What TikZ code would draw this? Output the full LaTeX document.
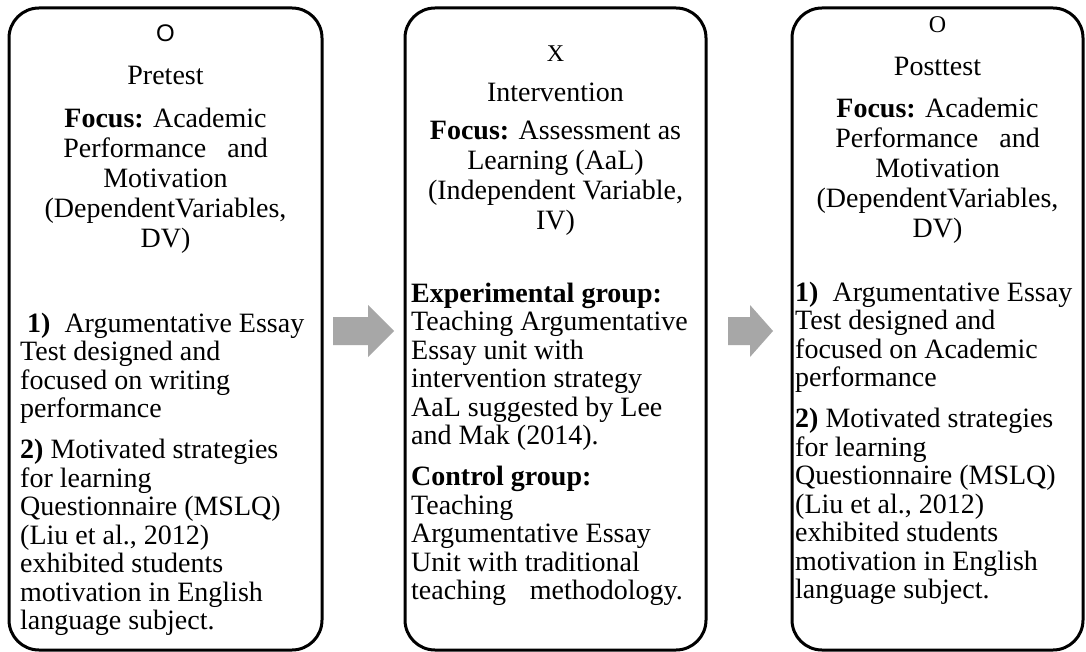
\documentclass[tikz,border=0pt]{standalone}
\usepackage{fontspec}
\setmainfont{Liberation Serif}
\newfontfamily\arialfont{Liberation Sans}
\definecolor{arrowgray}{RGB}{167,167,167}
\newcommand\Lcol[1]{\vtop{\baselineskip=28.5pt\lineskip=0pt\lineskiplimit=-20pt\halign{##\hfil\cr#1\crcr}}}
\newcommand\Ccol[2]{\vtop{\baselineskip=#1\lineskip=0pt\lineskiplimit=-20pt\halign{\hfil##\hfil\cr#2\crcr}}}
\newcommand\pgap{\noalign{\vskip 12.5pt}}
\tikzset{
  panel/.style={draw=black, line width=3pt, rounded corners=30pt},
  txt/.style={inner sep=0pt, anchor=base, font=\fontsize{28}{28.5}\selectfont},
  body/.style={inner sep=0pt, anchor=base west, font=\fontsize{28}{28.5}\selectfont},
  blockarrow/.style={fill=arrowgray, draw=none}
}
\begin{document}
\begin{tikzpicture}[x=1pt,y=-1pt]
\useasboundingbox (0,0) rectangle (1086,652);
\fill[white] (0,0) rectangle (1086,652);
% panels
\draw[panel] (9,8) rectangle (322,650);
\draw[panel] (405,8) rectangle (706,650);
\draw[panel] (792,8) rectangle (1083,650);
% arrows
\fill[blockarrow] (333,317) -- (368,317) -- (368,305) -- (394,331) -- (368,357) -- (368,345) -- (333,345) -- cycle;
\fill[blockarrow] (728,317) -- (750,317) -- (750,305) -- (773,331) -- (750,357) -- (750,345) -- (728,345) -- cycle;
% box 1
\node[txt, font=\arialfont\fontsize{24}{26}\selectfont] (o1) at (165.5,42) {O};
\node[txt] (pre) at (165.5,85) {Pretest};
\node[txt] (f1) at (165.5,128) {\Ccol{30pt}{\textbf{Focus:} Academic\cr Performance\hspace{0.75em}and\cr Motivation\cr (DependentVariables,\cr DV)}};
\node[body] (b1) at (20,332) {\Lcol{\ \textbf{1)}\ \ Argumentative Essay\cr Test designed and\cr focused on writing\cr performance\cr\pgap \textbf{2)} Motivated strategies\cr for learning\cr Questionnaire (MSLQ)\cr (Liu et al., 2012)\cr exhibited students\cr motivation in English\cr language subject.}};
% box 2
\node[txt, font=\fontsize{24}{26}\selectfont] (x2) at (555.5,62) {X};
\node[txt] (int) at (555.5,102) {Intervention};
\node[txt] (f2) at (555.5,140) {\Ccol{30pt}{\textbf{Focus:} Assessment as\cr Learning (AaL)\cr (Independent Variable,\cr IV)}};
\node[body] (b2) at (411,302) {\Lcol{\textbf{Experimental group:}\cr Teaching Argumentative\cr Essay unit with\cr intervention strategy\cr AaL suggested by Lee\cr and Mak (2014).\cr\pgap \textbf{Control group:}\cr Teaching\cr Argumentative Essay\cr Unit with traditional\cr teaching\hspace{0.6em} methodology.}};
% box 3
\node[txt, font=\fontsize{24}{26}\selectfont] (o3) at (937.5,33) {O};
\node[txt] (post) at (937.5,76) {Posttest};
\node[txt] (f3) at (937.5,118) {\Ccol{30pt}{\textbf{Focus:} Academic\cr Performance\hspace{0.75em}and\cr Motivation\cr (DependentVariables,\cr DV)}};
\node[body] (b3) at (795,301) {\Lcol{\textbf{1)}\ \ Argumentative Essay\cr Test designed and\cr focused on Academic\cr performance\cr\pgap \textbf{2)} Motivated strategies\cr for learning\cr Questionnaire (MSLQ)\cr (Liu et al., 2012)\cr exhibited students\cr motivation in English\cr language subject.}};
\end{tikzpicture}
\end{document}
